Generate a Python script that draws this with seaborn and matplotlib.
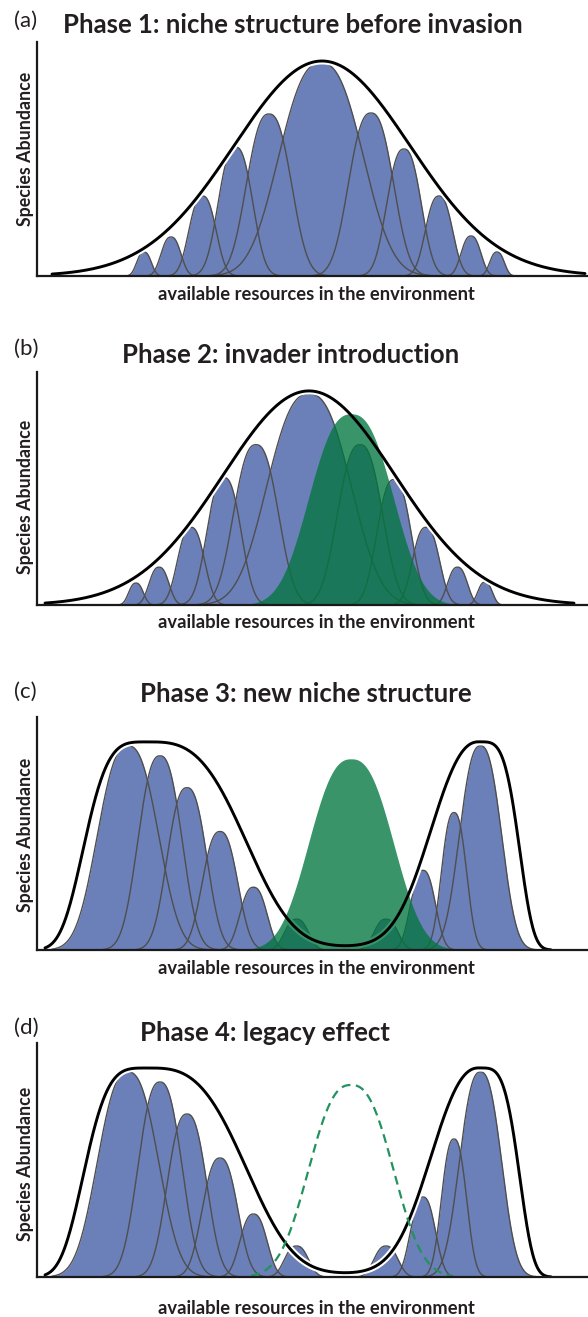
import numpy as np
import matplotlib
matplotlib.use("Agg")
import matplotlib.pyplot as plt
import seaborn as sns

# ---------------------------------------------------------------------------
# Niche data (resource axis 0..551, abundance axis 0..234, arbitrary units)
# ---------------------------------------------------------------------------
RES_MAX = 551
ABUND_MAX = 234

# Phase 1: resident species before invasion
phase1_centers = [107, 134, 165.5, 198.5, 232, 284, 334, 367, 402, 434, 460]
phase1_heights = [24, 39, 80, 129, 162, 213, 163, 127, 80, 40, 24]
phase1_widths = [7, 9.5, 13, 16.5, 21.5, 40, 21.5, 16.5, 13, 9.5, 7]
phase1_env_center, phase1_env_height, phase1_env_width = 285, 215, 88

# Phase 2: same residents, invader arrives
phase2_centers = [99, 122, 154, 187, 219, 272, 323, 357, 389, 420.5, 448]
phase2_heights = [22, 38, 78, 128, 161, 212, 161, 126, 78, 38, 23]
phase2_widths = [7, 9.5, 13, 16.5, 21.5, 40, 21.5, 16.5, 13, 9.5, 7]
phase2_env_center, phase2_env_height, phase2_env_width = 272, 215, 86

invader_center, invader_height, invader_width = 314, 192, 40

# Phases 3 and 4: residents pushed to the two ends of the resource axis
phase3_centers = [91, 123, 150, 183, 216.5, 259.5, 349, 386, 417, 443.5]
phase3_heights = [205, 195, 163, 119, 63, 31, 31, 80, 138, 205]
phase3_widths = [29, 21, 19, 17, 13, 11.5, 11.5, 12, 12, 20]

# community envelope after invasion: two lobes
lobe_centers = [111, 442]
lobe_heights = [209, 209]
lobe_left_spread = [70.3, 62]
lobe_right_spread = [112.6, 44]
lobe_left_shape = [4.0, 2.3]
lobe_right_shape = [3.1, 4.0]
gap_floor_center, gap_floor_height, gap_floor_width = 312, 3, 50

titles = ["Phase 1: niche structure before invasion",
          "Phase 2: invader introduction",
          "Phase 3: new niche structure",
          "Phase 4: legacy effect"]
tags = ["(a)", "(b)", "(c)", "(d)"]
xlabel_text = "available resources in the environment"
ylabel_text = "Species Abundance"

# ---------------------------------------------------------------------------
BLUE = "#6b7fb8"
EDGE = "#4f4f4f"
GREEN = "#03763f"
GREEN_ALPHA = 0.78
DASH_GREEN = "#22925f"
TEXT = "#231f20"

FIG_W, FIG_H = 588, 1317
sns.set_theme(style="white")
plt.rcParams["font.family"] = ["Lato", "DejaVu Sans"]


def niche(x, c, h, w, p=2.5):
    return h * np.exp(-0.5 * np.abs((x - c) / w) ** p)


def lobe(x, c, h, wl, wr, pl, pr):
    d = x - c
    out = np.empty_like(x)
    left = d < 0
    out[left] = h * np.exp(-np.abs(d[left] / wl) ** pl)
    out[~left] = h * np.exp(-np.abs(d[~left] / wr) ** pr)
    return out


def add_axes(base_px, top_px, left_px=37):
    h = base_px - top_px
    ax = fig.add_axes([left_px / FIG_W, 1 - base_px / FIG_H,
                       (FIG_W - left_px) / FIG_W, h / FIG_H])
    ax.set_xlim(0, RES_MAX)
    ax.set_ylim(0, ABUND_MAX)
    ax.set_xticks([])
    ax.set_yticks([])
    for s in ["top", "right"]:
        ax.spines[s].set_visible(False)
    for s in ["left", "bottom"]:
        ax.spines[s].set_color("#1a1a1a")
        ax.spines[s].set_linewidth(1.6)
        ax.spines[s].set_zorder(10)
    ax.patch.set_alpha(0)
    return ax


def draw_species(ax, centers, heights, widths):
    curves = []
    for c, h, w in zip(centers, heights, widths):
        x = np.linspace(c - 2.9 * w, c + 2.9 * w, 400)
        y = niche(x, c, h, w)
        curves.append((x, y))
        ax.fill_between(x, 0, y, color=BLUE, lw=0, zorder=1)
    for x, y in curves:
        sns.lineplot(x=x, y=y, ax=ax, color=EDGE, lw=1.0, sort=False,
                     estimator=None, zorder=2)


def draw_halo(ax, x, y):
    sns.lineplot(x=x, y=y, ax=ax, color="white", lw=5.0, sort=False,
                 estimator=None, zorder=3)


def draw_outline(ax, x, y):
    sns.lineplot(x=x, y=y, ax=ax, color="black", lw=2.1, sort=False,
                 estimator=None, zorder=6)


def draw_invader(ax):
    x = np.linspace(invader_center - 2.9 * invader_width,
                    invader_center + 2.9 * invader_width, 400)
    y = niche(x, invader_center, invader_height, invader_width)
    ax.fill_between(x, 0, y, color=GREEN, alpha=GREEN_ALPHA, lw=0, zorder=4)


def two_lobe_envelope(x):
    y = np.zeros_like(x)
    for c, h, wl, wr, pl, pr in zip(lobe_centers, lobe_heights, lobe_left_spread,
                                    lobe_right_spread, lobe_left_shape,
                                    lobe_right_shape):
        y += lobe(x, c, h, wl, wr, pl, pr)
    y += gap_floor_height * np.exp(-0.5 * ((x - gap_floor_center) / gap_floor_width) ** 2)
    return y


def label_panel(i, tag_y, title_x, title_y, xlab_y, ylab_y):
    fig.text(14 / FIG_W, 1 - tag_y / FIG_H, tags[i], fontsize=16, color=TEXT,
             ha="left", va="center")
    fig.text(title_x / FIG_W, 1 - title_y / FIG_H, titles[i], fontsize=18.5,
             fontweight="bold", color=TEXT, ha="center", va="baseline")
    fig.text(316 / FIG_W, 1 - xlab_y / FIG_H, xlabel_text, fontsize=13.2,
             fontweight="bold", color=TEXT, ha="center", va="baseline")
    fig.text(25.5 / FIG_W, 1 - ylab_y / FIG_H, ylabel_text, fontsize=12.8,
             fontweight="bold", color=TEXT, ha="center", va="center",
             rotation=90)


fig = plt.figure(figsize=(FIG_W / 100, FIG_H / 100), dpi=100)
fig.patch.set_facecolor("white")

# (a) niche structure before invasion
ax = add_axes(276, 42)
draw_species(ax, phase1_centers, phase1_heights, phase1_widths)
xe = np.linspace(15, 548, 800)
ye = niche(xe, phase1_env_center, phase1_env_height, phase1_env_width, p=2)
draw_halo(ax, xe, ye)
draw_outline(ax, xe, ye)
label_panel(0, 21, 293, 33, 300, 149)

# (b) invader introduction
ax = add_axes(605, 372)
draw_species(ax, phase2_centers, phase2_heights, phase2_widths)
xe = np.linspace(8, 537, 800)
ye = niche(xe, phase2_env_center, phase2_env_height, phase2_env_width, p=2)
draw_halo(ax, xe, ye)
draw_invader(ax)
draw_outline(ax, xe, ye)
label_panel(1, 349, 291, 363, 628, 497)

# (c) new niche structure
ax = add_axes(950, 717)
draw_species(ax, phase3_centers, phase3_heights, phase3_widths)
xe = np.linspace(8, 514, 800)
ye = two_lobe_envelope(xe)
draw_halo(ax, xe, ye)
draw_invader(ax)
draw_outline(ax, xe, ye)
label_panel(2, 692, 306, 702, 974, 835)

# (d) legacy effect: invader gone, its former niche shown dashed
ax = add_axes(1277, 1043)
draw_species(ax, phase3_centers, phase3_heights, phase3_widths)
draw_halo(ax, xe, ye)
draw_outline(ax, xe, ye)
xg = np.linspace(invader_center - 2.5 * invader_width,
                 invader_center + 2.5 * invader_width, 400)
sns.lineplot(x=xg, y=niche(xg, invader_center, invader_height, invader_width),
             ax=ax, color=DASH_GREEN, lw=1.6, sort=False, estimator=None,
             zorder=7, linestyle=(0, (4, 2.5)))
label_panel(3, 1028, 265, 1041, 1314, 1164)

fig.savefig("out.png", dpi=100, facecolor="white")
